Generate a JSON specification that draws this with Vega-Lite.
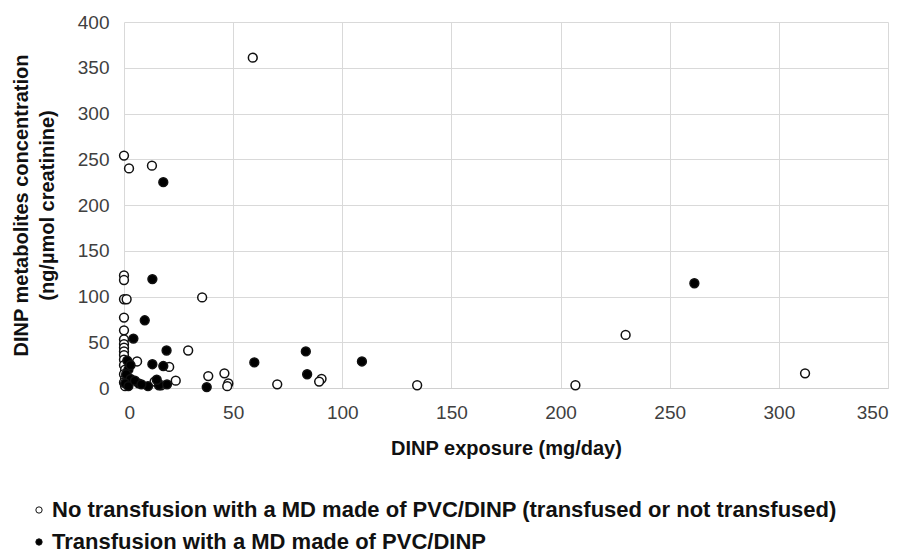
{
  "$schema": "https://vega.github.io/schema/vega-lite/v6.json",
  "width": 764,
  "height": 366,
  "autosize": {"type": "none"},
  "padding": {"left": 124, "top": 22, "right": 22, "bottom": 170},
  "background": "white",
  "config": {
    "view": {"stroke": null},
    "font": "Liberation Sans"
  },
  "data": {
    "values": [
      {"x": 59, "y": 361, "g": "No transfusion with a MD made of PVC/DINP (transfused or not transfused)"},
      {"x": 0, "y": 254, "g": "No transfusion with a MD made of PVC/DINP (transfused or not transfused)"},
      {"x": 2.3, "y": 240, "g": "No transfusion with a MD made of PVC/DINP (transfused or not transfused)"},
      {"x": 12.8, "y": 243, "g": "No transfusion with a MD made of PVC/DINP (transfused or not transfused)"},
      {"x": 0, "y": 123, "g": "No transfusion with a MD made of PVC/DINP (transfused or not transfused)"},
      {"x": 0, "y": 118, "g": "No transfusion with a MD made of PVC/DINP (transfused or not transfused)"},
      {"x": 0, "y": 97, "g": "No transfusion with a MD made of PVC/DINP (transfused or not transfused)"},
      {"x": 1.2, "y": 97, "g": "No transfusion with a MD made of PVC/DINP (transfused or not transfused)"},
      {"x": 35.8, "y": 99, "g": "No transfusion with a MD made of PVC/DINP (transfused or not transfused)"},
      {"x": 0, "y": 77, "g": "No transfusion with a MD made of PVC/DINP (transfused or not transfused)"},
      {"x": 0, "y": 63, "g": "No transfusion with a MD made of PVC/DINP (transfused or not transfused)"},
      {"x": 0, "y": 53, "g": "No transfusion with a MD made of PVC/DINP (transfused or not transfused)"},
      {"x": 0, "y": 48, "g": "No transfusion with a MD made of PVC/DINP (transfused or not transfused)"},
      {"x": 0, "y": 44, "g": "No transfusion with a MD made of PVC/DINP (transfused or not transfused)"},
      {"x": 0, "y": 40, "g": "No transfusion with a MD made of PVC/DINP (transfused or not transfused)"},
      {"x": 0, "y": 36, "g": "No transfusion with a MD made of PVC/DINP (transfused or not transfused)"},
      {"x": 0, "y": 31, "g": "No transfusion with a MD made of PVC/DINP (transfused or not transfused)"},
      {"x": 0, "y": 25, "g": "No transfusion with a MD made of PVC/DINP (transfused or not transfused)"},
      {"x": 0.5, "y": 20, "g": "No transfusion with a MD made of PVC/DINP (transfused or not transfused)"},
      {"x": 0, "y": 15, "g": "No transfusion with a MD made of PVC/DINP (transfused or not transfused)"},
      {"x": 0.5, "y": 10, "g": "No transfusion with a MD made of PVC/DINP (transfused or not transfused)"},
      {"x": 0, "y": 6, "g": "No transfusion with a MD made of PVC/DINP (transfused or not transfused)"},
      {"x": 0.5, "y": 2, "g": "No transfusion with a MD made of PVC/DINP (transfused or not transfused)"},
      {"x": 1.5, "y": 5, "g": "No transfusion with a MD made of PVC/DINP (transfused or not transfused)"},
      {"x": 6, "y": 29, "g": "No transfusion with a MD made of PVC/DINP (transfused or not transfused)"},
      {"x": 14, "y": 7, "g": "No transfusion with a MD made of PVC/DINP (transfused or not transfused)"},
      {"x": 20.7, "y": 23, "g": "No transfusion with a MD made of PVC/DINP (transfused or not transfused)"},
      {"x": 23.7, "y": 8, "g": "No transfusion with a MD made of PVC/DINP (transfused or not transfused)"},
      {"x": 17, "y": 3, "g": "No transfusion with a MD made of PVC/DINP (transfused or not transfused)"},
      {"x": 29.4, "y": 41, "g": "No transfusion with a MD made of PVC/DINP (transfused or not transfused)"},
      {"x": 38.6, "y": 13, "g": "No transfusion with a MD made of PVC/DINP (transfused or not transfused)"},
      {"x": 46, "y": 16, "g": "No transfusion with a MD made of PVC/DINP (transfused or not transfused)"},
      {"x": 47.8, "y": 5, "g": "No transfusion with a MD made of PVC/DINP (transfused or not transfused)"},
      {"x": 47.3, "y": 2, "g": "No transfusion with a MD made of PVC/DINP (transfused or not transfused)"},
      {"x": 70.2, "y": 4, "g": "No transfusion with a MD made of PVC/DINP (transfused or not transfused)"},
      {"x": 90.5, "y": 10, "g": "No transfusion with a MD made of PVC/DINP (transfused or not transfused)"},
      {"x": 89.4, "y": 7, "g": "No transfusion with a MD made of PVC/DINP (transfused or not transfused)"},
      {"x": 134.3, "y": 3, "g": "No transfusion with a MD made of PVC/DINP (transfused or not transfused)"},
      {"x": 206.8, "y": 3, "g": "No transfusion with a MD made of PVC/DINP (transfused or not transfused)"},
      {"x": 229.8, "y": 58, "g": "No transfusion with a MD made of PVC/DINP (transfused or not transfused)"},
      {"x": 312, "y": 16, "g": "No transfusion with a MD made of PVC/DINP (transfused or not transfused)"},
      {"x": 18, "y": 225, "g": "Transfusion with a MD made of PVC/DINP"},
      {"x": 13, "y": 119, "g": "Transfusion with a MD made of PVC/DINP"},
      {"x": 9.5, "y": 74, "g": "Transfusion with a MD made of PVC/DINP"},
      {"x": 4.3, "y": 54, "g": "Transfusion with a MD made of PVC/DINP"},
      {"x": 19.5, "y": 41, "g": "Transfusion with a MD made of PVC/DINP"},
      {"x": 1.5, "y": 30, "g": "Transfusion with a MD made of PVC/DINP"},
      {"x": 13, "y": 26, "g": "Transfusion with a MD made of PVC/DINP"},
      {"x": 18, "y": 24, "g": "Transfusion with a MD made of PVC/DINP"},
      {"x": 2, "y": 20, "g": "Transfusion with a MD made of PVC/DINP"},
      {"x": 1, "y": 15, "g": "Transfusion with a MD made of PVC/DINP"},
      {"x": 3, "y": 10, "g": "Transfusion with a MD made of PVC/DINP"},
      {"x": 0.5, "y": 5, "g": "Transfusion with a MD made of PVC/DINP"},
      {"x": 2, "y": 2, "g": "Transfusion with a MD made of PVC/DINP"},
      {"x": 6.7, "y": 5, "g": "Transfusion with a MD made of PVC/DINP"},
      {"x": 11, "y": 2, "g": "Transfusion with a MD made of PVC/DINP"},
      {"x": 16, "y": 3, "g": "Transfusion with a MD made of PVC/DINP"},
      {"x": 19.7, "y": 4, "g": "Transfusion with a MD made of PVC/DINP"},
      {"x": 15, "y": 9, "g": "Transfusion with a MD made of PVC/DINP"},
      {"x": 3, "y": 25, "g": "Transfusion with a MD made of PVC/DINP"},
      {"x": 5, "y": 8, "g": "Transfusion with a MD made of PVC/DINP"},
      {"x": 8, "y": 4, "g": "Transfusion with a MD made of PVC/DINP"},
      {"x": 37.9, "y": 1, "g": "Transfusion with a MD made of PVC/DINP"},
      {"x": 59.7, "y": 28, "g": "Transfusion with a MD made of PVC/DINP"},
      {"x": 83.3, "y": 40, "g": "Transfusion with a MD made of PVC/DINP"},
      {"x": 83.9, "y": 15, "g": "Transfusion with a MD made of PVC/DINP"},
      {"x": 109, "y": 29, "g": "Transfusion with a MD made of PVC/DINP"},
      {"x": 261.3, "y": 114.5, "g": "Transfusion with a MD made of PVC/DINP"}
    ]
  },
  "mark": {"type": "point", "shape": "circle", "filled": true, "stroke": "#111111", "strokeWidth": 1.5, "size": 78, "opacity": 1},
  "encoding": {
    "x": {
      "field": "x", "type": "quantitative",
      "scale": {"domain": [0, 350], "nice": false, "zero": false},
      "axis": {
        "values": [0, 50, 100, 150, 200, 250, 300, 350],
        "title": "DINP exposure (mg/day)",
        "titleFontSize": 20, "titleFontWeight": "bold", "titleColor": "#111111", "titlePadding": 16,
        "labelFontSize": 19, "labelColor": "#404040", "labelPadding": 15,
        "ticks": false, "domainColor": "#d0d0d0", "gridColor": "#d9d9d9", "grid": true
      }
    },
    "y": {
      "field": "y", "type": "quantitative",
      "scale": {"domain": [0, 400], "nice": false},
      "axis": {
        "values": [0, 50, 100, 150, 200, 250, 300, 350, 400],
        "title": ["DINP metabolites  concentration", "(ng/µmol creatinine)"],
        "titleFontSize": 20, "titleFontWeight": "bold", "titleColor": "#111111", "titlePadding": 20, "titleLineHeight": 26,
        "labelFontSize": 19, "labelColor": "#404040", "labelPadding": 15,
        "ticks": false, "domain": false, "gridColor": "#d9d9d9", "grid": true
      }
    },
    "fill": {
      "field": "g", "type": "nominal",
      "scale": {
        "domain": ["No transfusion with a MD made of PVC/DINP (transfused or not transfused)", "Transfusion with a MD made of PVC/DINP"],
        "range": ["white", "black"]
      },
      "legend": {
        "title": null,
        "orient": "none",
        "legendX": -96,
        "legendY": 477,
        "direction": "vertical",
        "symbolType": "circle",
        "symbolSize": 40,
        "symbolStrokeColor": "#111111",
        "symbolStrokeWidth": 1,
        "labelFontSize": 22,
        "labelFontWeight": "bold",
        "labelColor": "#111111",
        "labelLimit": 1000,
        "labelOffset": 2,
        "rowPadding": 10
      }
    },
    "order": {"field": "g", "sort": "ascending"}
  }
}
